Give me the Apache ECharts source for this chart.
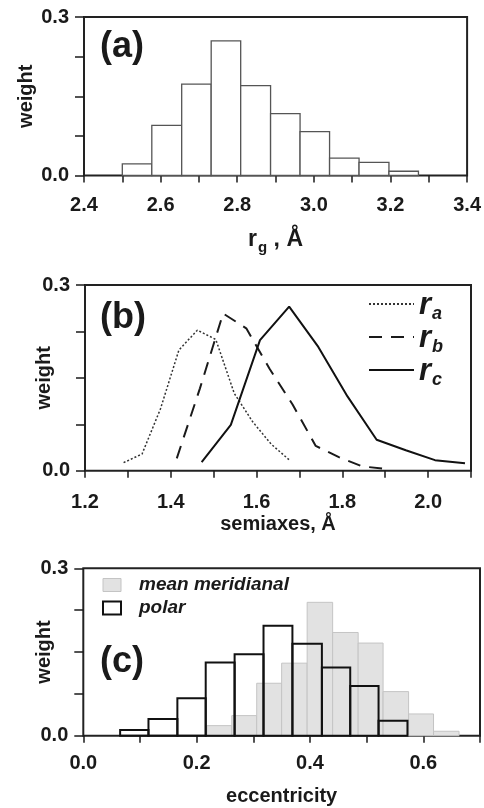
<!DOCTYPE html>
<html>
<head>
<meta charset="utf-8">
<script src="https://cdn.jsdelivr.net/npm/echarts@6/dist/echarts.min.js"></script>
<style>
  html, body { margin: 0; padding: 0; background: #fff; }
  #chart { width: 484px; height: 808px; }
</style>
</head>
<body>
<div id="chart"></div>
<script>
// (a) radius of gyration histogram: bin edges and weights
const rgEdges   = [2.500, 2.577, 2.655, 2.732, 2.809, 2.887, 2.964, 3.041, 3.118, 3.196, 3.273];
const rgWeights = [0.022, 0.095, 0.173, 0.255, 0.170, 0.117, 0.083, 0.033, 0.025, 0.008];

// (b) semiaxis distributions
const raX = [1.290, 1.333, 1.376, 1.419, 1.462, 1.505, 1.548, 1.591, 1.634, 1.677];
const raY = [0.013, 0.027, 0.100, 0.195, 0.227, 0.212, 0.125, 0.079, 0.043, 0.017];
const rbX = [1.414, 1.468, 1.522, 1.576, 1.630, 1.684, 1.738, 1.792, 1.846, 1.900];
const rbY = [0.020, 0.133, 0.254, 0.230, 0.165, 0.107, 0.040, 0.022, 0.007, 0.003];
const rcX = [1.472, 1.540, 1.608, 1.676, 1.744, 1.812, 1.880, 1.948, 2.016, 2.086];
const rcY = [0.014, 0.074, 0.211, 0.265, 0.200, 0.120, 0.050, 0.033, 0.017, 0.012];

// (c) eccentricity histograms
const meridEdges   = [0.218, 0.262, 0.306, 0.350, 0.395, 0.440, 0.485, 0.529, 0.574, 0.618, 0.663];
const meridWeights = [0.018, 0.036, 0.094, 0.130, 0.239, 0.185, 0.166, 0.079, 0.039, 0.008];
const polarEdges   = [0.065, 0.115, 0.166, 0.216, 0.267, 0.318, 0.369, 0.421, 0.471, 0.521, 0.572];
const polarWeights = [0.010, 0.030, 0.067, 0.131, 0.146, 0.197, 0.165, 0.122, 0.089, 0.027];

// weight axis: ticks every 0.075, labelled only at the ends
const weightMin = 0, weightMax = 0.3, weightStep = 0.075;
const weightLabels = { 0: '0.0', 0.3: '0.3' };

const FONT = 'Liberation Sans, Arial, sans-serif';
const INK = '#1a1a1a';

function bins(edges, weights) {
  return weights.map((w, i) => [edges[i], edges[i + 1], w]);
}
function pairs(xs, ys) {
  return xs.map((x, i) => [x, ys[i]]);
}
function binRenderer(style) {
  return function (params, api) {
    const top = api.coord([api.value(0), api.value(2)]);
    const base = api.coord([api.value(1), 0]);
    return {
      type: 'rect',
      shape: { x: top[0], y: top[1], width: base[0] - top[0], height: base[1] - top[1] },
      style: style
    };
  };
}

function xAxisFor(gridIndex, min, max, margin, name, nameGap, nameRich) {
  return {
    type: 'value', gridIndex, min, max, interval: 0.1, offset: 2,
    axisLine: { show: false },
    axisTick: { show: true, inside: false, length: 7, lineStyle: { color: INK, width: 1.5 } },
    splitLine: { show: false },
    axisLabel: {
      margin, color: INK, fontFamily: FONT, fontWeight: 'bold', fontSize: 20, lineHeight: 20,
      formatter: v => (Math.round(v * 10) % 2 === 0 ? v.toFixed(1) : '')
    },
    name, nameLocation: 'middle', nameGap, nameMoveOverlap: false,
    nameTextStyle: Object.assign({ color: INK, fontFamily: FONT, fontWeight: 'bold', fontSize: 20, lineHeight: 20 },
      nameRich ? { rich: nameRich } : {})
  };
}
function yAxisFor(gridIndex, nameGap) {
  return {
    type: 'value', gridIndex, min: weightMin, max: weightMax, interval: weightStep,
    axisLine: { show: false },
    axisTick: { show: true, inside: false, length: 9, lineStyle: { color: INK, width: 1.5 } },
    splitLine: { show: false },
    axisLabel: {
      margin: 15, color: INK, fontFamily: FONT, fontWeight: 'bold', fontSize: 20,
      formatter: v => {
        for (const k in weightLabels) { if (Math.abs(v - Number(k)) < 1e-6) return weightLabels[k]; }
        return '';
      }
    },
    name: 'weight', nameLocation: 'middle', nameGap, nameRotate: 90, nameMoveOverlap: false,
    nameTextStyle: { color: INK, fontFamily: FONT, fontWeight: 'bold', fontSize: 20, lineHeight: 20 }
  };
}

const gridBox = { show: true, borderColor: '#222', borderWidth: 2, backgroundColor: 'transparent' };

const chart = echarts.init(document.getElementById('chart'), null, { renderer: 'canvas' });
chart.setOption({
  animation: false,
  backgroundColor: '#fff',
  grid: [
    Object.assign({ left: 84, top: 17, width: 387, height: 158.5 }, gridBox),
    Object.assign({ left: 85, top: 285, width: 386, height: 185.7 }, gridBox),
    Object.assign({ left: 83.3, top: 568.3, width: 396.7, height: 167.4 }, gridBox)
  ],
  xAxis: [
    xAxisFor(0, 2.4, 3.4, 18, '{r|r}{g|g}{r| , Å}', 51, {
      r: { fontFamily: FONT, fontWeight: 'bold', fontSize: 23, color: INK, lineHeight: 22, verticalAlign: 'top' },
      g: { fontFamily: FONT, fontWeight: 'bold', fontSize: 15, color: INK, lineHeight: 15, verticalAlign: 'top', padding: [12, 0, 0, 1] }
    }),
    xAxisFor(1, 1.2, 2.1, 20, 'semiaxes, Å', 42),
    xAxisFor(2, 0, 0.7, 16, 'eccentricity', 49)
  ],
  yAxis: [yAxisFor(0, 48), yAxisFor(1, 31), yAxisFor(2, 29)],
  legend: [
    {
      orient: 'vertical', left: 368, top: 290, padding: 0,
      itemWidth: 45, itemHeight: 14, itemGap: 0,
      itemStyle: { opacity: 0 },
      data: ['r_a', 'r_b', 'r_c'],
      formatter: name => '{r|r}{s|' + name.slice(2) + '}',
      textStyle: {
        rich: {
          r: { fontFamily: FONT, fontStyle: 'italic', fontWeight: 'bold', fontSize: 31, lineHeight: 28, color: INK, verticalAlign: 'top' },
          s: { fontFamily: FONT, fontStyle: 'italic', fontWeight: 'bold', fontSize: 18, lineHeight: 16, color: INK, verticalAlign: 'top', padding: [15, 0, 0, 1] }
        }
      }
    },
    {
      orient: 'vertical', left: 102, top: 575.5, padding: 0,
      itemWidth: 18, itemHeight: 13, itemGap: 4,
      data: [
        { name: 'mean meridianal', icon: 'rect', itemStyle: { color: '#e2e2e2', borderColor: '#c4c4c4', borderWidth: 1 } },
        { name: 'polar', icon: 'rect', itemStyle: { color: '#fff', borderColor: '#111', borderWidth: 2 } }
      ],
      textStyle: {
        fontFamily: FONT, fontStyle: 'italic', fontWeight: 'bold', fontSize: 19, lineHeight: 19, color: INK,
        padding: [0, 0, 0, 13]
      }
    }
  ],
  graphic: [
    { type: 'text', left: 100, top: 29, style: { text: '(a)', font: 'bold 36px ' + FONT, fill: INK } },
    { type: 'text', left: 100, top: 300, style: { text: '(b)', font: 'bold 36px ' + FONT, fill: INK } },
    { type: 'text', left: 100, top: 644, style: { text: '(c)', font: 'bold 36px ' + FONT, fill: INK } }
  ],
  series: [
    {
      type: 'custom', name: 'rg', xAxisIndex: 0, yAxisIndex: 0,
      data: bins(rgEdges, rgWeights), encode: { x: [0, 1], y: 2 },
      renderItem: binRenderer({ fill: '#fff', stroke: '#555', lineWidth: 1.3 })
    },
    {
      type: 'line', name: 'r_a', xAxisIndex: 1, yAxisIndex: 1, symbol: 'none',
      data: pairs(raX, raY),
      lineStyle: { color: '#333', width: 1.5, type: [2, 2] }, itemStyle: { color: '#333' }
    },
    {
      type: 'line', name: 'r_b', xAxisIndex: 1, yAxisIndex: 1, symbol: 'none',
      data: pairs(rbX, rbY),
      lineStyle: { color: '#1a1a1a', width: 2, type: [13, 9] }, itemStyle: { color: '#1a1a1a' }
    },
    {
      type: 'line', name: 'r_c', xAxisIndex: 1, yAxisIndex: 1, symbol: 'none',
      data: pairs(rcX, rcY),
      lineStyle: { color: '#111', width: 2, type: 'solid' }, itemStyle: { color: '#111' }
    },
    {
      type: 'custom', name: 'mean meridianal', xAxisIndex: 2, yAxisIndex: 2,
      data: bins(meridEdges, meridWeights), encode: { x: [0, 1], y: 2 },
      itemStyle: { color: '#e2e2e2' },
      renderItem: binRenderer({ fill: '#e2e2e2', stroke: '#c4c4c4', lineWidth: 1 })
    },
    {
      type: 'custom', name: 'polar', xAxisIndex: 2, yAxisIndex: 2,
      data: bins(polarEdges, polarWeights), encode: { x: [0, 1], y: 2 },
      itemStyle: { color: '#fff' },
      renderItem: binRenderer({ fill: 'none', stroke: '#111', lineWidth: 2 })
    }
  ]
});
</script>
</body>
</html>
